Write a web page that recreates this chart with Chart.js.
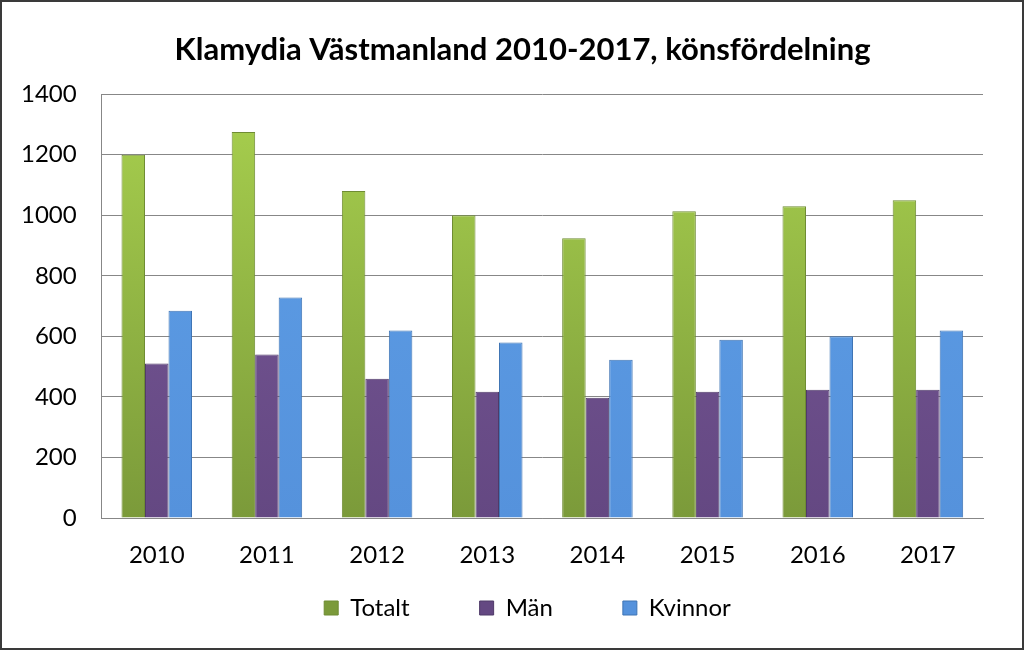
<!DOCTYPE html>
<html>
<head>
<meta charset="utf-8">
<script src="https://cdn.jsdelivr.net/npm/chart.js@4"></script>
<style>
  html, body { margin: 0; padding: 0; background: #fff; }
  #wrap { width: 1024px; height: 650px; box-sizing: border-box; border: 2px solid #3a3a3a; }
</style>
</head>
<body>
<div id="wrap"><canvas id="chartKlamydia" width="1020" height="646"></canvas></div>
<script>
// data
const years = ["2010", "2011", "2012", "2013", "2014", "2015", "2016", "2017"];
const totalt = [1200, 1275, 1080, 1000, 924, 1013, 1030, 1050];
const man = [510, 540, 460, 417, 397, 417, 424, 424];
const kvinnor = [685, 728, 619, 580, 523, 589, 600, 619];
const yTicks = [0, 200, 400, 600, 800, 1000, 1200, 1400];

function barFill(top, bottom) {
  return (c) => {
    const area = c.chart.chartArea;
    if (!area) return top;
    const g = c.chart.ctx.createLinearGradient(0, area.top, 0, area.bottom);
    g.addColorStop(0, top);
    g.addColorStop(1, bottom);
    return g;
  };
}

// legend sits closer to the axis than its wide item spacing would allow,
// and title/legend are a bit right of the canvas centre
const legendLift = 58;
const legendShift = 38;
const titleShift = 33;
const nudgeBoxes = {
  id: "nudgeBoxes",
  afterLayout(chart) {
    chart.legend.top -= legendLift;
    chart.legend.left += legendShift;
    chart.legend.right += legendShift;
    chart.titleBlock.left += titleShift;
    chart.titleBlock.right += titleShift;
  },
};

const ctx = document.getElementById("chartKlamydia").getContext("2d");
Chart.defaults.font.family = "Lato, 'Open Sans', sans-serif";
Chart.defaults.color = "#000";

new Chart(ctx, {
  type: "bar",
  data: {
    labels: years,
    datasets: [
      { label: "Totalt", data: totalt, backgroundColor: barFill("#a8d04e", "#7b9a3a"), borderColor: "#6f8c33", borderWidth: 1 },
      { label: "Män", data: man, backgroundColor: barFill("#7a5a9a", "#644882"), borderColor: "#4f3a68", borderWidth: 1 },
      { label: "Kvinnor", data: kvinnor, backgroundColor: barFill("#5e9ee6", "#5592dc"), borderColor: "#3f74b4", borderWidth: 1 },
    ],
  },
  options: {
    responsive: false,
    animation: false,
    layout: { padding: { left: -6, right: 39, top: 0, bottom: 14 } },
    datasets: { bar: { categoryPercentage: 0.64, barPercentage: 1.0 } },
    plugins: {
      title: {
        display: true,
        text: "Klamydia Västmanland 2010-2017, könsfördelning",
        font: { size: 31, weight: "bold", lineHeight: 1.2 },
        color: "#000",
        padding: { top: 29, bottom: 26 },
      },
      legend: {
        position: "bottom",
        maxHeight: 50,
        labels: { boxWidth: 14, boxHeight: 14, padding: 70, font: { size: 24 }, color: "#000" },
      },
      tooltip: { enabled: false },
    },
    scales: {
      x: {
        grid: { display: false },
        border: { color: "#878787", width: 1 },
        ticks: { font: { size: 24, lineHeight: 1 }, padding: 17 },
      },
      y: {
        min: 0,
        max: 1400,
        afterBuildTicks: (axis) => { axis.ticks = yTicks.map((v) => ({ value: v })); },
        grid: { color: "#878787", drawTicks: false },
        border: { color: "#878787", width: 1 },
        ticks: { font: { size: 24 }, padding: 25, callback: (v) => String(v) },
      },
    },
  },
  plugins: [nudgeBoxes],
});
</script>
</body>
</html>
